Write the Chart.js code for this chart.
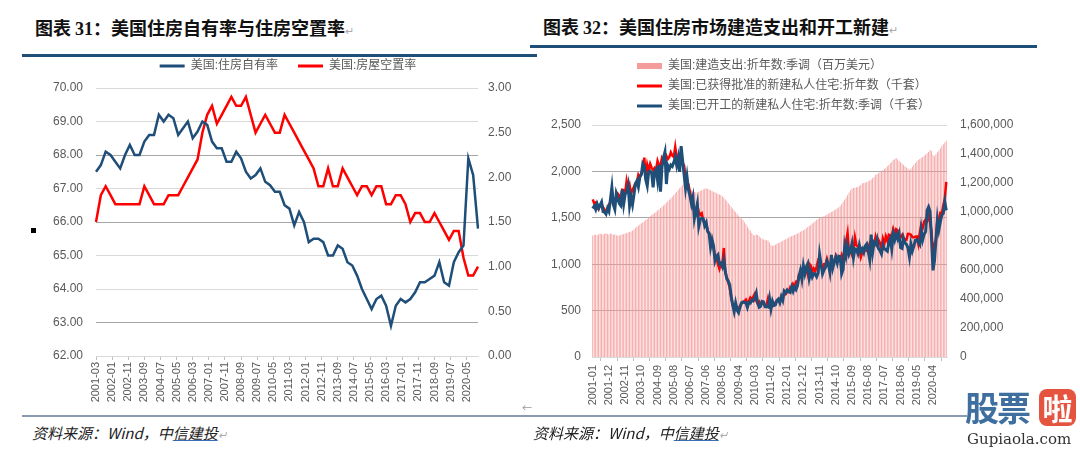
<!DOCTYPE html>
<html>
<head>
<meta charset="utf-8">
<script src="https://cdn.jsdelivr.net/npm/chart.js@4.4.0/dist/chart.umd.min.js"></script>
<style>
  body { margin: 0; background: #fff; width: 1080px; height: 451px; overflow: hidden; position: relative; font-family: "Noto Sans CJK SC", sans-serif; }
  .abs { position: absolute; }
  .title { font-weight: bold; font-size: 18px; color: #111; white-space: nowrap; line-height: 20px; }
  .num { font-family: "Liberation Serif", serif; }
  .ret { color: #aaa; font-weight: normal; font-size: 11px; }
  .rule { background: #1f4e79; height: 3px; }
  .note { font-size: 15px; font-style: italic; color: #222; white-space: nowrap; line-height: 18px; }
  .note u { text-decoration-color: #3b6fb6; }
</style>
</head>
<body>
<div class="abs title" style="left:35px;top:17px">图表 <span class="num">31</span>：美国住房自有率与住房空置率<span class="ret">↵</span></div>
<div class="abs rule" style="left:22px;top:54px;width:515px"></div>
<div class="abs title" style="left:543px;top:16px">图表 <span class="num">32</span>：美国住房市场建造支出和开工新建<span class="ret">↵</span></div>
<div class="abs rule" style="left:530px;top:45px;width:507px"></div>

<canvas id="ownership-chart" class="abs" style="left:40px;top:46px" width="490" height="360"></canvas>
<canvas id="building-chart" class="abs" style="left:545px;top:55px" width="490" height="351"></canvas>

<div class="abs" style="left:31px;top:228px;width:5px;height:5px;background:#000"></div>
<div class="abs" style="left:522px;top:400px;font-size:10px;color:#999">←</div>
<div class="abs" style="left:22px;top:415px;width:945px;height:2px;background:#8a9ab0"></div>
<div class="abs note" style="left:32px;top:424px">资料来源：Wind，中<u>信建投</u><span class="ret">↵</span></div>
<div class="abs note" style="left:533px;top:424px">资料来源：Wind，中<u>信建投</u><span class="ret">↵</span></div>

<div class="abs" style="left:965px;top:387px;width:114px;height:64px">
  <span class="abs" style="left:0;top:0;font:bold 34px 'Noto Sans CJK SC';color:#3f6f9f;letter-spacing:-2px;line-height:40px">股票</span>
  <span class="abs" style="left:74px;top:2px;width:37px;height:37px;background:#e5543e;border-radius:8px;color:#fff;font:bold 30px 'Noto Sans CJK SC';line-height:37px;text-align:center">啦</span>
  <span class="abs" style="left:2px;top:43px;font:15px 'DejaVu Serif';color:#333">Gupiaola.com</span>
</div>

<script>
// 美国住房自有率 / 房屋空置率 (季度, 2001Q1 - 2020Q4)
var ownershipRate = [67.5, 67.7, 68.1, 68.0, 67.8, 67.6, 68.0, 68.3, 68.0, 68.0, 68.4, 68.6,
  68.6, 69.2, 69.0, 69.2, 69.1, 68.6, 68.8, 69.0, 68.5, 68.7, 69.0, 68.9,
  68.4, 68.2, 68.2, 67.8, 67.8, 68.1, 67.9, 67.5, 67.3, 67.4, 67.6, 67.2,
  67.1, 66.9, 66.9, 66.5, 66.4, 65.9, 66.3, 66.0, 65.4, 65.5, 65.5, 65.4,
  65.0, 65.0, 65.3, 65.2, 64.8, 64.7, 64.4, 64.0, 63.7, 63.4, 63.7, 63.8,
  63.5, 62.9, 63.5, 63.7, 63.6, 63.7, 63.9, 64.2, 64.2, 64.3, 64.4, 64.8,
  64.2, 64.1, 64.8, 65.1, 65.3, 67.9, 67.4, 65.8];
var vacancyRate = [1.5, 1.8, 1.9, 1.8, 1.7, 1.7, 1.7, 1.7, 1.7, 1.7, 1.9, 1.8,
  1.7, 1.7, 1.7, 1.8, 1.8, 1.8, 1.9, 2.0, 2.1, 2.2, 2.5, 2.7,
  2.8, 2.6, 2.7, 2.8, 2.9, 2.8, 2.8, 2.9, 2.7, 2.5, 2.6, 2.7,
  2.6, 2.5, 2.5, 2.7, 2.6, 2.5, 2.4, 2.3, 2.2, 2.1, 1.9, 1.9,
  2.1, 1.9, 1.9, 2.1, 2.0, 1.9, 1.8, 1.9, 1.9, 1.8, 1.9, 1.9,
  1.7, 1.7, 1.8, 1.8, 1.7, 1.5, 1.6, 1.6, 1.5, 1.5, 1.6, 1.5,
  1.4, 1.3, 1.4, 1.4, 1.1, 0.9, 0.9, 1.0];

// 建造支出 (百万美元), 批准 / 开工 (千套), 月度 2001-01 - 2021-01
var spending = [
  838000, 842000, 845000, 840000, 846000, 851000, 848000, 844000, 850000, 853000, 849000, 845000,
  852000, 848000, 843000, 846000, 840000, 836000, 838000, 842000, 845000, 849000, 852000, 856000,
  858000, 862000, 866000, 872000, 880000, 889000, 898000, 906000, 914000, 922000, 929000, 936000,
  944000, 952000, 961000, 970000, 978000, 986000, 993000, 1001000, 1010000, 1018000, 1027000, 1036000,
  1045000, 1054000, 1064000, 1074000, 1084000, 1095000, 1106000, 1117000, 1129000, 1140000, 1152000, 1163000,
  1175000, 1186000, 1198000, 1192000, 1180000, 1170000, 1158000, 1150000, 1143000, 1138000, 1135000, 1137000,
  1140000, 1145000, 1150000, 1156000, 1160000, 1163000, 1160000, 1156000, 1150000, 1145000, 1140000, 1136000,
  1130000, 1125000, 1120000, 1116000, 1108000, 1098000, 1087000, 1075000, 1062000, 1050000, 1037000, 1025000,
  1012000, 1000000, 988000, 975000, 965000, 956000, 944000, 930000, 915000, 900000, 885000, 870000,
  855000, 841000, 838000, 845000, 842000, 832000, 822000, 815000, 810000, 808000, 806000, 803000,
  790000, 772000, 766000, 770000, 775000, 781000, 786000, 790000, 796000, 802000, 807000, 812000,
  818000, 824000, 829000, 833000, 838000, 842000, 846000, 851000, 857000, 863000, 869000, 874000,
  880000, 888000, 896000, 904000, 912000, 920000, 928000, 937000, 945000, 952000, 958000, 963000,
  967000, 971000, 976000, 982000, 988000, 994000, 1000000, 1006000, 1012000, 1019000, 1025000, 1032000,
  1040000, 1055000, 1070000, 1085000, 1100000, 1118000, 1135000, 1150000, 1160000, 1165000, 1168000, 1170000,
  1172000, 1180000, 1188000, 1198000, 1200000, 1203000, 1207000, 1212000, 1218000, 1225000, 1233000, 1242000,
  1255000, 1262000, 1268000, 1274000, 1281000, 1289000, 1297000, 1306000, 1315000, 1325000, 1336000, 1347000,
  1359000, 1365000, 1372000, 1362000, 1352000, 1343000, 1334000, 1325000, 1316000, 1307000, 1298000, 1290000,
  1300000, 1312000, 1325000, 1338000, 1350000, 1359000, 1366000, 1373000, 1380000, 1388000, 1396000, 1405000,
  1414000, 1428000, 1420000, 1395000, 1385000, 1398000, 1412000, 1425000, 1440000, 1455000, 1468000, 1480000,
  1492000];
var permits = [
  1699, 1656, 1666, 1622, 1592, 1632, 1640, 1615, 1588, 1562, 1591, 1646,
  1665, 1787, 1691, 1669, 1716, 1758, 1738, 1695, 1803, 1799, 1771, 1896,
  1808, 1854, 1757, 1803, 1835, 1875, 1885, 1966, 1943, 1970, 2012, 2148,
  1927, 2071, 2007, 2081, 2039, 2011, 2037, 2017, 2113, 2066, 2066, 2145,
  2118, 2126, 2167, 2133, 2155, 2205, 2170, 2155, 2263, 2146, 2160, 2108,
  2151, 2088, 2063, 1949, 1890, 1856, 1775, 1700, 1648, 1566, 1539, 1630,
  1562, 1531, 1548, 1475, 1436, 1436, 1363, 1332, 1273, 1250, 1180, 1078,
  1077, 1000, 949, 1008, 1010, 1175, 910, 854, 804, 747, 649, 563,
  548, 547, 543, 524, 541, 581, 592, 599, 618, 573, 603, 641,
  622, 650, 680, 606, 574, 597, 569, 575, 578, 554, 559, 630,
  565, 533, 590, 564, 588, 609, 604, 626, 620, 651, 693, 677,
  699, 701, 747, 725, 784, 755, 811, 806, 890, 896, 900, 946,
  901, 955, 890, 1005, 985, 918, 954, 926, 974, 1039, 1017, 986,
  937, 1000, 1000, 1059, 999, 973, 1022, 1024, 1031, 1092, 1052, 1035,
  1053, 1098, 1038, 1140, 1250, 1337, 1130, 1161, 1105, 1150, 1289, 1204,
  1187, 1166, 1076, 1130, 1168, 1153, 1144, 1139, 1225, 1260, 1201, 1210,
  1293, 1219, 1260, 1228, 1168, 1275, 1223, 1300, 1250, 1316, 1303, 1300,
  1377, 1323, 1377, 1364, 1301, 1292, 1315, 1249, 1270, 1265, 1328, 1326,
  1317, 1291, 1288, 1296, 1299, 1220, 1336, 1425, 1391, 1461, 1482, 1466,
  1536, 1452, 1356, 1074, 1220, 1258, 1483, 1476, 1553, 1545, 1635, 1709,
  1886];
var starts = [
  1600, 1625, 1590, 1649, 1605, 1636, 1670, 1567, 1562, 1540, 1602, 1568,
  1698, 1829, 1642, 1592, 1764, 1717, 1655, 1633, 1804, 1648, 1753, 1788,
  1853, 1629, 1726, 1643, 1751, 1867, 1897, 1833, 1939, 1967, 2083, 2057,
  1911, 1846, 1998, 2003, 1981, 1828, 2002, 2024, 1905, 2072, 1782, 2042,
  2144, 2207, 1864, 2061, 2025, 2068, 2054, 2095, 2151, 2065, 2147, 1994,
  2273, 2119, 1969, 1821, 1942, 1802, 1737, 1650, 1720, 1491, 1570, 1649,
  1409, 1480, 1495, 1490, 1415, 1448, 1354, 1330, 1183, 1264, 1197, 1037,
  1084, 1103, 1005, 1013, 973, 1046, 923, 844, 820, 777, 652, 560,
  490, 582, 505, 478, 540, 585, 594, 586, 585, 534, 588, 581,
  614, 604, 636, 687, 583, 536, 546, 599, 594, 543, 545, 539,
  630, 517, 600, 554, 561, 608, 623, 585, 650, 610, 711, 694,
  723, 704, 695, 753, 708, 757, 728, 770, 863, 930, 841, 982,
  898, 969, 1005, 849, 917, 862, 900, 892, 864, 905, 1105, 1003,
  897, 939, 965, 1033, 996, 912, 1100, 962, 1024, 1073, 1012, 1087,
  1082, 898, 945, 1188, 1094, 1200, 1108, 1148, 1222, 1070, 1166, 1159,
  1116, 1205, 1138, 1165, 1126, 1197, 1218, 1140, 1051, 1318, 1127, 1234,
  1216, 1270, 1167, 1147, 1112, 1208, 1164, 1155, 1141, 1235, 1276, 1163,
  1321, 1261, 1326, 1276, 1329, 1180, 1171, 1280, 1229, 1214, 1176, 1079,
  1217, 1144, 1194, 1257, 1265, 1238, 1211, 1376, 1263, 1323, 1351, 1580,
  1617, 1567, 1269, 934, 1038, 1265, 1487, 1373, 1459, 1530, 1547, 1669,
  1580];

function monthRange(y0, m0, y1, m1) {
  var out = [];
  var y = y0, m = m0;
  while (y < y1 || (y === y1 && m <= m1)) {
    out.push(y + '-' + String(m).padStart(2, '0'));
    m++;
    if (m > 12) { m = 1; y++; }
  }
  return out;
}

var ownMonths = monthRange(2001, 3, 2020, 12);
var quarterEnds = ownMonths.filter(function (s) { return ['03', '06', '09', '12'].includes(s.slice(5)); });
var buildMonths = monthRange(2001, 1, 2021, 1);

var BLUE = '#1f4e79';
var RED = '#ff0000';
var PINK = '#f49c9c';
var TEXT = '#595959';

Chart.defaults.font.family = '"Liberation Sans", "Noto Sans CJK SC", sans-serif';
Chart.defaults.color = TEXT;

// move a legend box after layout (the original legends are not where Chart.js puts them)
var legendShift = {
  id: 'legendShift',
  afterLayout: function (chart, args, opts) {
    var lg = chart.legend;
    if (!lg) return;
    lg.left += opts.dx || 0; lg.right += opts.dx || 0;
    lg.top += opts.dy || 0; lg.bottom += opts.dy || 0;
  }
};

function legendLabels(padding) {
  return {
    usePointStyle: true,
    pointStyleWidth: 25,
    padding: padding,
    color: TEXT,
    font: { size: 12 },
    sort: function (a, b) { return a.datasetIndex - b.datasetIndex; },
    generateLabels: function (chart) {
      var items = Chart.defaults.plugins.legend.labels.generateLabels(chart);
      items.forEach(function (it) {
        var ds = chart.data.datasets[it.datasetIndex];
        it.pointStyle = 'line';
        it.strokeStyle = ds.legendColor;
        it.lineWidth = ds.legendWidth;
      });
      return items;
    }
  };
}

function everyNth(n) {
  return function (scale) {
    scale.ticks = scale.ticks.filter(function (t, i) { return i % n === 0; });
  };
}

function renderOwnership(ctx) {
  new Chart(ctx, {
    type: 'line',
    data: {
      labels: ownMonths,
      datasets: [{
        label: '美国:住房自有率',
        data: ownershipRate.map(function (v, i) { return { x: quarterEnds[i], y: v }; }),
        borderColor: BLUE, legendColor: BLUE, legendWidth: 3,
        borderWidth: 2.5, pointRadius: 0, tension: 0, yAxisID: 'y'
      }, {
        label: '美国:房屋空置率',
        data: vacancyRate.map(function (v, i) { return { x: quarterEnds[i], y: v }; }),
        borderColor: RED, legendColor: RED, legendWidth: 3,
        borderWidth: 2.5, pointRadius: 0, tension: 0, yAxisID: 'y1'
      }]
    },
    options: {
      responsive: false,
      animation: false,
      layout: { padding: 0 },
      plugins: {
        legend: { position: 'top', labels: legendLabels(20) },
        tooltip: { enabled: false },
        legendShift: { dx: 3, dy: -6 }
      },
      scales: {
        x: {
          offset: false,
          grid: { drawOnChartArea: false, tickLength: 4, color: '#bfbfbf' },
          border: { color: '#d9d9d9' },
          ticks: { autoSkip: false, minRotation: 90, maxRotation: 90, padding: 2, font: { size: 11 } },
          afterBuildTicks: everyNth(10),
          afterFit: function (s) { s.height = 50; }
        },
        y: {
          position: 'left', min: 62, max: 70,
          ticks: { stepSize: 1, padding: 13, font: { size: 12 }, callback: function (v) { return v.toFixed(2); } },
          grid: {
            drawTicks: false,
            color: function (c) { return [63, 66, 68].includes(c.tick.value) ? '#a6a6a6' : '#d9d9d9'; }
          },
          border: { display: false },
          afterFit: function (s) { s.width = 56; }
        },
        y1: {
          position: 'right', min: 0, max: 3,
          ticks: { stepSize: 0.5, padding: 10, font: { size: 12 }, callback: function (v) { return v.toFixed(2); } },
          grid: { display: false, drawTicks: false },
          border: { display: false },
          afterFit: function (s) { s.width = 52; }
        }
      }
    },
    plugins: [legendShift]
  });
}

function renderBuilding(ctx) {
  new Chart(ctx, {
    data: {
      labels: buildMonths,
      datasets: [{
        type: 'bar',
        label: '美国:建造支出:折年数:季调（百万美元）',
        data: spending,
        backgroundColor: PINK, legendColor: PINK, legendWidth: 6,
        barPercentage: 0.55, categoryPercentage: 1.0,
        yAxisID: 'y1', order: 3
      }, {
        type: 'line',
        label: '美国:已获得批准的新建私人住宅:折年数（千套）',
        data: permits,
        borderColor: RED, legendColor: RED, legendWidth: 3,
        borderWidth: 2.5, pointRadius: 0, tension: 0,
        yAxisID: 'y', order: 2
      }, {
        type: 'line',
        label: '美国:已开工的新建私人住宅:折年数:季调（千套）',
        data: starts,
        borderColor: BLUE, legendColor: BLUE, legendWidth: 3,
        borderWidth: 3, pointRadius: 0, tension: 0,
        yAxisID: 'y', order: 1
      }]
    },
    options: {
      responsive: false,
      animation: false,
      layout: { padding: 0 },
      plugins: {
        legend: { position: 'top', align: 'start', labels: legendLabels(8) },
        tooltip: { enabled: false },
        legendShift: { dx: 84, dy: -3 }
      },
      scales: {
        x: {
          offset: true,
          grid: { drawOnChartArea: false, tickLength: 4, color: '#bfbfbf' },
          border: { color: '#d9d9d9' },
          ticks: { autoSkip: false, minRotation: 90, maxRotation: 90, padding: 4, font: { size: 11 } },
          afterBuildTicks: everyNth(11),
          afterFit: function (s) { s.height = 49; }
        },
        y: {
          position: 'left', min: 0, max: 2500,
          ticks: { stepSize: 500, padding: 11, font: { size: 12 }, callback: function (v) { return v.toLocaleString('en-US'); } },
          grid: {
            drawTicks: false,
            color: function (c) { return c.tick.value === 2500 || c.tick.value === 0 ? '#d9d9d9' : '#a6a6a6'; }
          },
          border: { display: false },
          afterFit: function (s) { s.width = 47; }
        },
        y1: {
          position: 'right', min: 0, max: 1600000,
          ticks: { stepSize: 200000, padding: 13, font: { size: 12 }, callback: function (v) { return v.toLocaleString('en-US'); } },
          grid: { display: false, drawTicks: false },
          border: { display: false },
          afterFit: function (s) { s.width = 88; }
        }
      }
    },
    plugins: [legendShift]
  });
}

renderOwnership(document.getElementById('ownership-chart'));
renderBuilding(document.getElementById('building-chart'));
</script>
</body>
</html>
